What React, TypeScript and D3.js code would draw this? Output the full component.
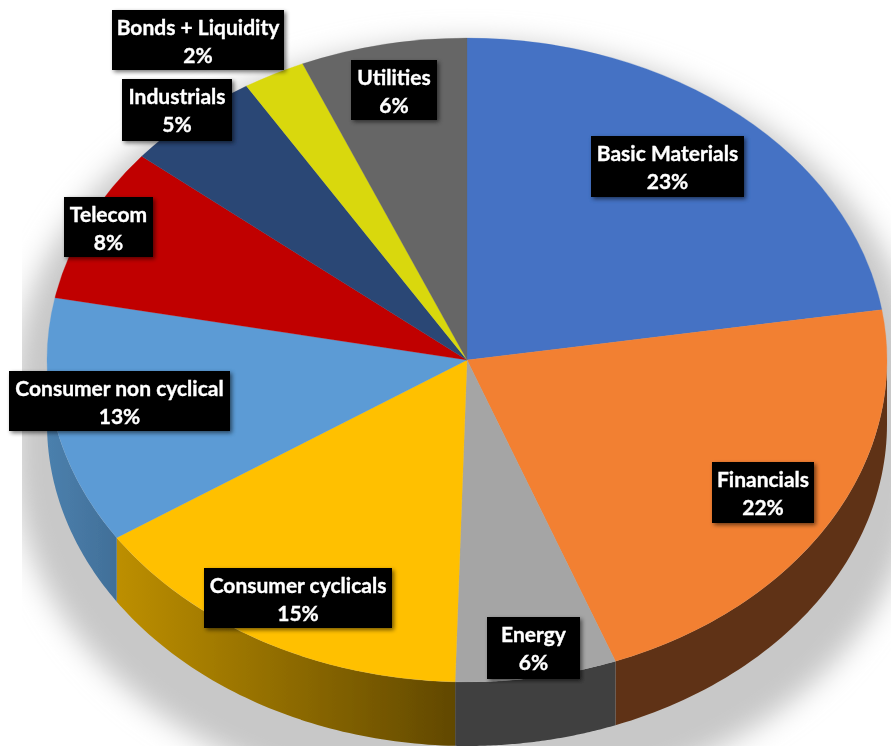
import React from "react";
import * as d3 from "d3";

// Data
const categories = ["Basic Materials", "Financials", "Energy", "Consumer cyclicals", "Consumer non cyclical", "Telecom", "Industrials", "Bonds + Liquidity", "Utilities"];
const sliceValues = [22.5, 21.75, 6.2, 15.25, 12.4, 7.8, 5.3, 2.4, 6.4];
const percentLabels = ["23%", "22%", "6%", "15%", "13%", "8%", "5%", "2%", "6%"];
const topColors = ["#4472c4", "#f28033", "#a5a5a5", "#ffc000", "#5b9bd5", "#c00000", "#2a4675", "#d9d80a", "#666666"];
const sideStart = ["#2a4675", "#5f3215", "#414141", "#bd8f00", "#4b80ad", "#700000", "#1a2c4a", "#808000", "#404040"];
const sideEnd = ["#2a4675", "#5f3215", "#414141", "#614800", "#416f98", "#700000", "#1a2c4a", "#808000", "#404040"];

// Layout of the label boxes [x0, y0, x1, y1]
const labelBoxes = [
  [591, 136, 744, 197],
  [712, 462, 814, 523],
  [487, 617, 580, 679],
  [204, 568, 392, 628],
  [9, 371, 230, 431],
  [64, 197, 153, 257],
  [122, 79, 232, 141],
  [112, 10, 284, 70],
  [351, 60, 437, 120],
];

const W = 891, H = 746;
const CX = 467, CY = 360, RX = 420, RY = 322, DEPTH = 64;
const TAU = Math.PI * 2;

const pie = d3.pie<number>().sort(null).value((d) => d);
const arcs = pie(sliceValues);
const arcGen = d3.arc<d3.PieArcDatum<number>>().innerRadius(0).outerRadius(RX);
const pathLine = d3.line();

const rimPoint = (a: number, dy = 0): [number, number] => [CX + RX * Math.sin(a), CY - RY * Math.cos(a) + dy];

function sidePath(a0: number, a1: number) {
  const s = Math.max(a0, TAU / 4), e = Math.min(a1, (3 * TAU) / 4);
  if (e <= s) return null;
  const ts = d3.range(0, 61).map((i) => s + ((e - s) * i) / 60);
  const pts = [...ts.map((t) => rimPoint(t)), ...ts.slice().reverse().map((t) => rimPoint(t, DEPTH))];
  return pathLine(pts) + "Z";
}

function shadowPath() {
  const ts = d3.range(0, 121).map((i) => (TAU * i) / 120);
  const pts = ts.map((t) => {
    const p = rimPoint(t, Math.cos(t) < 0 ? DEPTH : 0);
    return [CX + (p[0] - CX) * 1.08, 424 + (p[1] - 392) * 1.08] as [number, number];
  });
  return pathLine(pts) + "Z";
}

export default function App() {
  return (
    <svg width={W} height={H} viewBox={`0 0 ${W} ${H}`} style={{ position: "absolute", left: 0, top: 0, display: "block", background: "#fff" }}>
      <defs>
        <filter id="shadowBlur" x="-10%" y="-10%" width="120%" height="120%">
          <feGaussianBlur stdDeviation="14" />
        </filter>
        <filter id="soft" x="-2%" y="-2%" width="104%" height="104%">
          <feGaussianBlur stdDeviation="0.45" />
        </filter>
        <filter id="boxShadow" x="-15%" y="-25%" width="130%" height="150%">
          <feGaussianBlur stdDeviation="2" />
        </filter>
        <clipPath id="shadowClip">
          <rect x={22} y={0} width={W - 22} height={H} />
        </clipPath>
        {arcs.map((a, i) => {
          const s = Math.max(a.startAngle, TAU / 4), e = Math.min(a.endAngle, (3 * TAU) / 4);
          if (e <= s) return null;
          const xs = [rimPoint(s)[0], rimPoint(e)[0]];
          return (
            <linearGradient key={i} id={`side${i}`} gradientUnits="userSpaceOnUse" x1={d3.min(xs)} x2={d3.max(xs)} y1={0} y2={0}>
              <stop offset="0" stopColor={sideStart[i]} />
              <stop offset="1" stopColor={sideEnd[i]} />
            </linearGradient>
          );
        })}
      </defs>
      <rect width={W} height={H} fill="#fff" />
      <g clipPath="url(#shadowClip)">
        <path d={shadowPath()} fill="#c8c8c8" filter="url(#shadowBlur)" />
      </g>
      <g filter="url(#soft)">
        {arcs.map((a, i) => {
          const d = sidePath(a.startAngle, a.endAngle);
          return d ? <path key={i} d={d} fill={`url(#side${i})`} /> : null;
        })}
        <g transform={`translate(${CX},${CY}) scale(1,${RY / RX})`}>
          {arcs.map((a, i) => (
            <path key={i} d={arcGen(a) as string} fill={topColors[i]} stroke={topColors[i]} strokeWidth={0.3} />
          ))}
        </g>
        {categories.map((c, i) => {
          const [x0, y0, x1, y1] = labelBoxes[i];
          const mx = (x0 + x1) / 2;
          const textProps = { textAnchor: "middle" as const, fill: "#fff", stroke: "#fff", strokeWidth: 0.35, fontFamily: "Lato, 'Open Sans', sans-serif", fontWeight: 700, fontSize: 21 };
          return (
            <g key={c}>
              <rect x={x0 + 2} y={y0 + 2} width={x1 - x0} height={y1 - y0} fill="#000" opacity={0.55} filter="url(#boxShadow)" />
              <rect x={x0} y={y0} width={x1 - x0} height={y1 - y0} fill="#000" />
              <text x={mx} y={y0 + 24.5} {...textProps}>{c}</text>
              <text x={mx} y={y0 + 52.5} {...textProps}>{percentLabels[i]}</text>
            </g>
          );
        })}
      </g>
    </svg>
  );
}
